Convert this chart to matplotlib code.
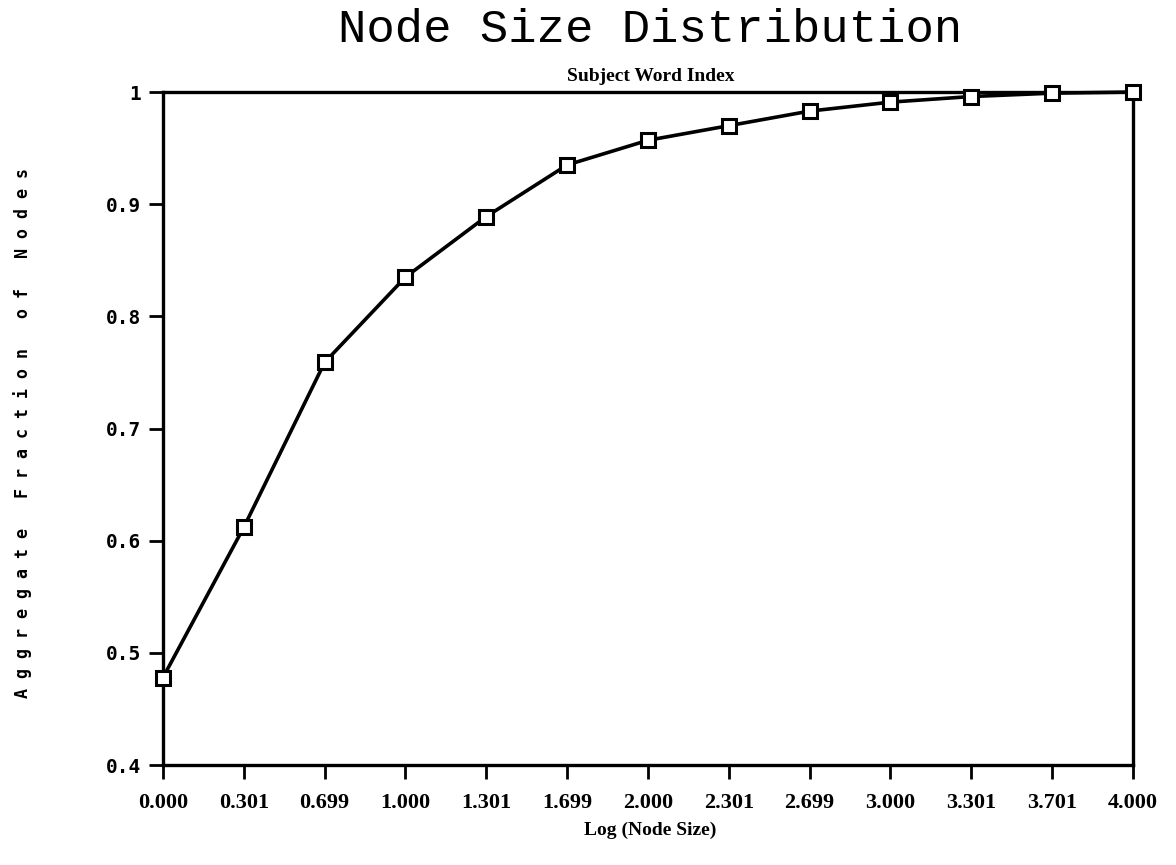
import matplotlib
matplotlib.use('Agg')
import matplotlib.pyplot as plt

# data
x_labels = ['0.000', '0.301', '0.699', '1.000', '1.301', '1.699', '2.000',
            '2.301', '2.699', '3.000', '3.301', '3.701', '4.000']
fraction = [0.478, 0.612, 0.759, 0.835, 0.889, 0.935, 0.957,
            0.970, 0.983, 0.991, 0.996, 0.999, 1.000]

fig = plt.figure(figsize=(11.76, 8.65), dpi=100)
ax = fig.add_axes([0.1386, 0.1156, 0.8248, 0.778])

pos = list(range(len(x_labels)))
ax.plot(pos, fraction, color='black', lw=2.6, marker='s', markersize=10,
        markerfacecolor='white', markeredgecolor='black', markeredgewidth=2.2,
        clip_on=False, zorder=3)

ax.set_xlim(0, len(x_labels) - 1)
ax.set_ylim(0.4, 1.0)
ax.set_xticks(pos)
ax.set_xticklabels(x_labels, fontsize=16, fontweight='bold', family='Liberation Serif')
ax.set_yticks([0.4, 0.5, 0.6, 0.7, 0.8, 0.9, 1.0])
ax.set_yticklabels(['0.4', '0.5', '0.6', '0.7', '0.8', '0.9', '1'],
                   fontsize=14, fontweight='bold', family='DejaVu Sans Mono')
ax.tick_params(axis='both', direction='out', length=10, width=2, color='black', pad=6)
ax.tick_params(axis='x', pad=10)

for s in ax.spines.values():
    s.set_linewidth(2.4)

# titles
fig.text(0.553, 0.965, 'Node Size Distribution', ha='center', va='center',
         fontsize=34, family='Liberation Mono')
fig.text(0.553, 0.912, 'Subject Word Index', ha='center', va='center',
         fontsize=14, fontweight='bold', family='Liberation Serif')
fig.text(0.553, 0.040, 'Log (Node Size)', ha='center', va='center',
         fontsize=14, fontweight='bold', family='Liberation Serif')
fig.text(0.019, 0.50, 'A g g r e g a t e   F r a c t i o n   o f   N o d e s',
         rotation=90, ha='center', va='center', fontsize=12, fontweight='bold',
         family='DejaVu Sans Mono')

plt.savefig('out.png', dpi=100)
